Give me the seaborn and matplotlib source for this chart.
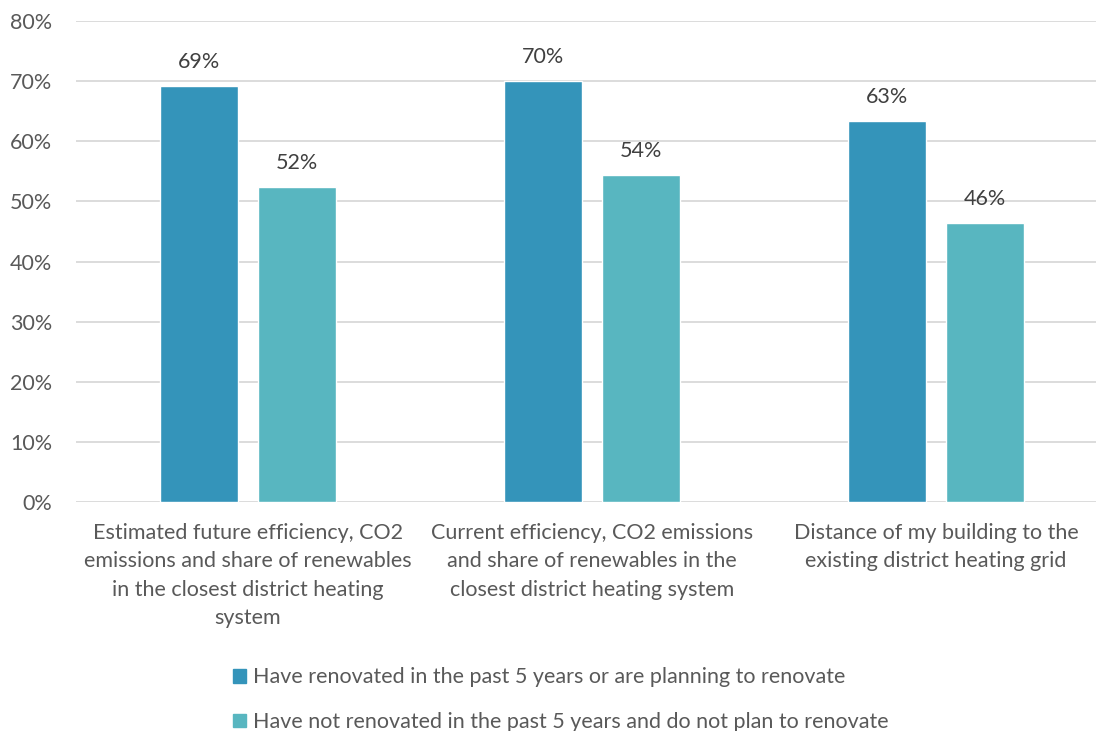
import numpy as np
import pandas as pd
import matplotlib
matplotlib.use("Agg")
import matplotlib.pyplot as plt
import seaborn as sns

categories = [
    "Estimated future efficiency, CO2\nemissions and share of renewables\nin the closest district heating\nsystem",
    "Current efficiency, CO2 emissions\nand share of renewables in the\nclosest district heating system",
    "Distance of my building to the\nexisting district heating grid",
]
series = [
    "Have renovated in the past 5 years or are planning to renovate",
    "Have not renovated in the past 5 years and do not plan to renovate",
]
renovated = [0.692, 0.700, 0.634]
not_renovated = [0.524, 0.544, 0.464]
yticks = [0, 0.1, 0.2, 0.3, 0.4, 0.5, 0.6, 0.7, 0.8]

colors = ["#3494BA", "#58B6C0"]
text_col = "#595959"
fs = 15.5

df = pd.DataFrame({
    "category": categories * 2,
    "group": [series[0]] * 3 + [series[1]] * 3,
    "value": renovated + not_renovated,
})

sns.set_style("white")
plt.rcParams["font.family"] = ["Lato", "DejaVu Sans"]

fig = plt.figure(figsize=(10.96, 7.31), dpi=100)
ax = fig.add_axes([76 / 1096, 1 - 502 / 731, 1032 / 1096, 481 / 731])

sns.barplot(data=df, x="category", y="value", hue="group", palette=colors,
            width=0.57, gap=0.214, saturation=1, ax=ax, legend=False)

ax.set_ylim(0, 0.8)
ax.set_xlim(-0.5, 2.5)
ax.set_yticks(yticks)
ax.set_yticklabels([f"{int(round(t * 100))}%" for t in yticks])
ax.yaxis.grid(True, color="#D9D9D9", linewidth=1.3)
ax.set_axisbelow(True)
for s in ax.spines.values():
    s.set_visible(False)
ax.tick_params(axis="both", length=0, labelsize=fs, labelcolor=text_col)
ax.tick_params(axis="y", pad=17)
ax.tick_params(axis="x", pad=15)
ax.set_xlabel("")
ax.set_ylabel("")
for lab in ax.get_xticklabels():
    lab.set_linespacing(1.53)
    lab.set_verticalalignment("top")

for cont in ax.containers:
    ax.bar_label(cont, labels=[f"{round(v * 100):.0f}%" for v in cont.datavalues],
                 padding=10, fontsize=fs, color="#404040")

handles = [plt.Rectangle((0, 0), 1, 1, color=c) for c in colors]
fig.legend(handles, series, loc="upper left", bbox_to_anchor=(214 / 1096, 1 - 648 / 731),
           frameon=False, fontsize=fs, labelcolor=text_col, handlelength=0.6,
           handleheight=0.6, handletextpad=0.3, labelspacing=1.15)

fig.savefig("out.png", dpi=100)
